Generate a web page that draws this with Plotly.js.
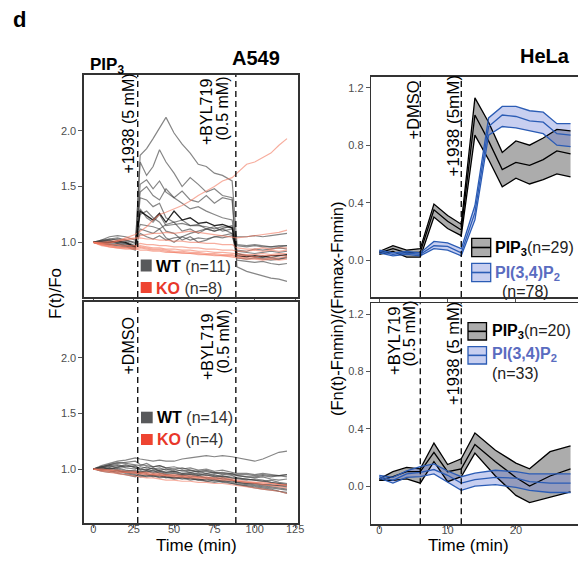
<!DOCTYPE html>
<html><head><meta charset="utf-8">
<script src="https://cdn.plot.ly/plotly-3.0.1.min.js"></script>
<style>html,body{margin:0;padding:0;background:#fff}#chart{width:578px;height:563px}</style>
</head><body><div id="chart"></div>
<script>
// ---------- DATA ----------
const a549_time = [0,5,10,15,20,26, 29,33,37,41,45,50,55,60,65,70,75,80,86, 89,95,100,105,110,115,120];
const a549_top_wt = [
 [1.00,1.01,1.02,0.99,0.97,0.94, 1.78,1.84,1.93,2.02,2.12,1.98,1.88,1.80,1.70,1.68,1.62,1.60,1.55, 0.98,0.97,0.98,0.97,0.96,0.96,0.97],
 [1.00,1.02,1.03,1.02,1.01,0.97, 1.72,1.60,1.68,1.83,1.72,1.62,1.50,1.58,1.52,1.45,1.48,1.42,1.40, 0.86,0.85,0.86,0.85,0.84,0.85,0.86],
 [1.00,0.99,0.98,0.97,0.96,0.93, 1.52,1.56,1.48,1.55,1.45,1.40,1.46,1.38,1.36,1.42,1.35,1.40,1.38, 0.78,0.74,0.72,0.70,0.68,0.67,0.65],
 [1.00,1.01,1.03,1.04,1.02,0.99, 1.45,1.50,1.42,1.38,1.48,1.40,1.35,1.30,1.32,1.28,1.25,1.22,1.20, 0.90,0.88,0.87,0.86,0.86,0.85,0.87],
 [1.00,1.00,1.01,1.00,0.99,0.95, 1.30,1.22,1.18,1.25,1.15,1.16,1.17,1.15,1.15,1.14,1.12,1.14,1.13, 0.92,0.91,0.90,0.91,0.92,0.91,0.92],
 [1.00,1.02,1.05,1.06,1.05,1.02, 1.16,1.15,1.14,1.12,1.16,1.18,1.10,1.12,1.08,1.12,1.14,1.10,1.12, 1.05,1.05,1.06,1.05,1.06,1.07,1.08],
 [1.00,1.01,1.02,1.03,1.02,1.00, 1.12,1.10,1.08,1.12,1.04,1.00,1.05,1.08,1.10,1.12,1.10,1.12,1.15, 0.97,0.96,0.97,0.96,0.96,0.97,0.97],
 [1.00,0.99,0.98,0.98,0.97,0.95, 1.40,1.38,1.32,1.35,1.22,1.18,1.20,1.15,1.16,1.12,1.10,1.12,1.08, 0.84,0.83,0.82,0.83,0.81,0.80,0.81],
 [1.00,1.00,0.99,1.00,0.99,0.96, 1.08,1.05,1.03,1.06,1.02,1.04,1.05,1.02,1.04,1.03,1.05,1.04,1.06, 0.93,0.92,0.94,0.93,0.94,0.95,0.94],
 [1.00,1.01,1.00,0.99,0.98,0.96, 1.25,1.28,1.22,1.18,1.10,1.08,1.02,1.05,1.00,1.02,1.05,1.06,1.08, 0.90,0.88,0.87,0.88,0.86,0.88,0.88]
];
const a549_top_wt_dark = [1.00,0.99,1.00,1.01,1.00,0.96, 1.28,1.24,1.20,1.26,1.18,1.28,1.20,1.22,1.17,1.18,1.15,1.16,1.13, 0.88,0.87,0.88,0.87,0.88,0.88,0.89];
const a549_top_ko = [
 [1.00,0.99,0.99,1.01,1.04,1.07, 1.10,1.14,1.20,1.25,1.27,1.30,1.33,1.37,1.42,1.46,1.50,1.55,1.58, 1.62,1.70,1.72,1.76,1.80,1.87,1.93],
 [1.00,1.00,1.01,1.02,1.03,1.04, 1.06,1.07,1.08,1.08,1.09,1.08,1.09,1.10,1.09,1.08,1.07,1.06,1.05, 1.04,1.05,1.06,1.07,1.08,1.09,1.11],
 [1.00,0.98,0.97,0.96,0.95,0.96, 0.97,0.96,0.95,0.95,0.94,0.94,0.93,0.93,0.92,0.92,0.91,0.91,0.90, 0.90,0.89,0.89,0.90,0.89,0.90,0.90],
 [1.00,0.97,0.96,0.95,0.94,0.94, 0.95,0.94,0.93,0.93,0.92,0.91,0.91,0.90,0.90,0.89,0.89,0.88,0.88, 0.87,0.86,0.86,0.85,0.86,0.86,0.87],
 [1.00,0.99,0.98,0.98,0.97,0.97, 0.99,0.98,0.98,0.97,0.97,0.96,0.96,0.95,0.95,0.94,0.94,0.93,0.93, 0.92,0.92,0.93,0.92,0.93,0.92,0.93],
 [1.00,0.98,0.97,0.96,0.96,0.95, 0.96,0.95,0.94,0.94,0.93,0.92,0.92,0.91,0.91,0.90,0.90,0.89,0.89, 0.88,0.88,0.87,0.88,0.88,0.89,0.88],
 [1.00,0.99,1.00,1.01,1.02,1.03, 1.04,1.03,1.03,1.02,1.02,1.01,1.01,1.00,1.00,0.99,0.99,0.98,0.98, 0.95,0.94,0.94,0.95,0.94,0.95,0.95],
 [1.00,0.98,0.96,0.95,0.95,0.94, 0.93,0.93,0.92,0.92,0.91,0.91,0.90,0.90,0.89,0.89,0.88,0.88,0.87, 0.86,0.85,0.85,0.84,0.85,0.84,0.85]
];
const a549_bot_wt = [
 [1.00,1.03,1.05,1.07,1.08,1.10, 1.09,1.08,1.07,1.08,1.07,1.07,1.09,1.10,1.11,1.12,1.11,1.12,1.11, 1.10,1.08,1.07,1.09,1.12,1.15,1.16],
 [1.00,1.02,1.04,1.05,1.06,1.07, 1.04,1.03,1.02,1.03,1.01,1.00,1.01,0.99,0.98,0.99,0.97,0.96,0.95, 0.94,0.93,0.93,0.94,0.93,0.94,0.95],
 [1.00,1.01,1.03,1.04,1.02,1.03, 1.00,0.99,1.01,0.98,0.97,0.98,0.96,0.97,0.95,0.96,0.94,0.93,0.92, 0.91,0.90,0.91,0.90,0.88,0.87,0.86],
 [1.00,0.99,0.98,0.96,0.95,0.93, 0.97,0.96,0.94,0.95,0.93,0.92,0.93,0.91,0.90,0.89,0.90,0.88,0.87, 0.86,0.85,0.84,0.83,0.82,0.80,0.79],
 [1.00,1.00,1.01,0.99,0.97,0.96, 0.98,0.97,0.99,0.96,0.95,0.96,0.94,0.95,0.93,0.92,0.93,0.91,0.90, 0.88,0.87,0.86,0.85,0.84,0.83,0.82],
 [1.00,1.02,1.00,1.01,0.99,0.98, 0.97,0.99,0.97,0.98,0.96,0.97,0.95,0.96,0.94,0.95,0.93,0.94,0.92, 0.92,0.91,0.90,0.89,0.88,0.87,0.86],
 [1.00,1.01,1.02,1.03,1.01,1.00, 1.02,1.01,1.00,1.01,0.99,1.00,0.98,0.99,0.97,0.98,0.96,0.97,0.96, 0.95,0.95,0.94,0.95,0.94,0.94,0.93],
 [1.00,0.98,0.97,0.99,0.96,0.94, 0.95,0.93,0.94,0.92,0.93,0.91,0.92,0.90,0.91,0.89,0.88,0.89,0.87, 0.86,0.84,0.83,0.82,0.81,0.80,0.78],
 [1.00,1.02,1.03,1.01,1.03,1.02, 1.00,1.02,1.00,0.99,1.00,0.98,0.99,0.97,0.98,0.96,0.97,0.95,0.96, 0.94,0.93,0.92,0.93,0.91,0.90,0.91],
 [1.00,0.99,1.01,1.00,0.98,0.99, 0.96,0.98,0.96,0.97,0.95,0.94,0.95,0.93,0.94,0.92,0.91,0.92,0.90, 0.89,0.88,0.87,0.86,0.85,0.85,0.84],
 [1.00,1.01,1.00,1.02,1.04,1.01, 0.99,1.00,0.98,0.99,0.97,0.98,0.96,0.95,0.96,0.94,0.95,0.93,0.94, 0.92,0.91,0.90,0.89,0.90,0.88,0.87],
 [1.00,1.00,0.99,0.97,0.98,0.97, 0.94,0.95,0.93,0.94,0.92,0.93,0.91,0.92,0.90,0.91,0.89,0.90,0.88, 0.87,0.86,0.85,0.84,0.83,0.82,0.81],
 [1.00,1.02,1.04,1.06,1.05,1.04, 1.03,1.05,1.02,1.03,1.01,1.02,1.00,1.01,0.99,1.00,0.98,0.99,0.97, 0.96,0.96,0.95,0.96,0.95,0.94,0.95],
 [1.00,0.99,1.00,0.98,0.97,0.95, 0.93,0.94,0.95,0.93,0.94,0.92,0.93,0.92,0.91,0.90,0.91,0.89,0.89, 0.88,0.87,0.87,0.86,0.86,0.85,0.85]
];
const a549_bot_ko = [
 [1.00,0.98,0.97,0.96,0.95,0.94, 0.93,0.92,0.92,0.91,0.90,0.90,0.89,0.89,0.88,0.88,0.87,0.87,0.86, 0.85,0.84,0.83,0.82,0.81,0.80,0.78],
 [1.00,0.99,0.99,0.98,0.97,0.97, 0.96,0.96,0.95,0.95,0.94,0.94,0.93,0.93,0.92,0.92,0.91,0.91,0.90, 0.89,0.88,0.87,0.86,0.85,0.84,0.83],
 [1.00,1.00,0.99,0.99,0.98,0.98, 0.97,0.97,0.96,0.96,0.95,0.95,0.94,0.94,0.93,0.93,0.92,0.92,0.91, 0.90,0.89,0.88,0.88,0.87,0.86,0.85],
 [1.00,0.99,0.98,0.97,0.97,0.96, 0.96,0.95,0.95,0.94,0.94,0.93,0.93,0.92,0.92,0.91,0.91,0.90,0.90, 0.89,0.88,0.88,0.87,0.87,0.86,0.86]
];
const a549_events_top = [27.5, 88.3];
const a549_events_bot = [27.5, 88.3];

const hela_top_time = [0,2,4,6,8,10,12,14,16,18,20,22,24,26,28];
const hela_top_pip3_upper = [0.06,0.10,0.07,0.08,0.39,0.31,0.25,1.13,0.96,0.75,0.83,0.80,0.85,0.91,0.90];
const hela_top_pip3_mean  = [0.05,0.08,0.05,0.055,0.35,0.27,0.21,1.01,0.83,0.63,0.68,0.66,0.70,0.76,0.74];
const hela_top_pip3_lower = [0.04,0.06,0.02,0.02,0.30,0.22,0.17,0.87,0.70,0.51,0.57,0.53,0.56,0.60,0.58];
const hela_top_pi34_upper = [0.07,0.05,0.06,0.05,0.13,0.12,0.08,0.38,0.99,1.07,1.07,1.04,1.03,0.95,0.95];
const hela_top_pi34_mean  = [0.06,0.04,0.05,0.04,0.10,0.095,0.05,0.33,0.93,1.01,1.00,0.97,0.96,0.88,0.87];
const hela_top_pi34_lower = [0.05,0.03,0.04,0.03,0.08,0.07,0.03,0.28,0.87,0.93,0.92,0.90,0.88,0.80,0.79];

const hela_bot_time = [0,2,4,6,8,10,12,14,17,20,22,25,28];
const hela_bot_pip3_upper = [0.05,0.10,0.13,0.12,0.30,0.15,0.19,0.37,0.25,0.16,0.12,0.24,0.28];
const hela_bot_pip3_mean  = [0.04,0.065,0.10,0.10,0.235,0.10,0.12,0.29,0.17,0.06,0.00,0.07,0.12];
const hela_bot_pip3_lower = [0.04,0.04,0.05,0.02,0.17,0.03,0.065,0.23,0.07,-0.065,-0.115,-0.075,-0.04];
const hela_bot_pi34_upper = [0.075,0.06,0.105,0.135,0.155,0.105,0.065,0.09,0.11,0.10,0.085,0.085,0.085];
const hela_bot_pi34_mean  = [0.065,0.04,0.085,0.095,0.115,0.075,0.02,0.045,0.06,0.055,0.03,0.02,0.02];
const hela_bot_pi34_lower = [0.055,0.02,0.06,0.065,0.085,0.03,-0.03,0.0,0.01,-0.01,-0.03,-0.045,-0.045];
const hela_events = [6, 12];

const a549_xticks = [0,25,50,75,100,125];
const a549_yticks = [1.0,1.5,2.0];
const hela_xticks = [0,10,20];
const hela_yticks = [0.0,0.4,0.8,1.2];

// ---------- BUILD ----------
const W = 578, H = 563;
const PX = v => v / W, PY = v => 1 - v / H;
const FONT = 'Liberation Sans, Arial, Helvetica, sans-serif';
const WT_COL = 'rgba(60,60,60,0.62)', KO_COL = 'rgba(242,120,95,0.6)';
const traces = [];
function addLines(sets, xa, ya, color, width) {
  sets.forEach(s => traces.push({x: a549_time, y: s, xaxis: xa, yaxis: ya, mode: 'lines',
    line: {color: color, width: width}, hoverinfo: 'skip', showlegend: false}));
}
addLines(a549_top_wt, 'x', 'y', WT_COL, 1.2);
addLines([a549_top_wt_dark], 'x', 'y', 'rgba(0,0,0,0.85)', 1.3);
addLines(a549_top_ko, 'x', 'y', KO_COL, 1.2);
addLines(a549_bot_wt, 'x2', 'y2', WT_COL, 1.2);
addLines(a549_bot_ko, 'x2', 'y2', KO_COL, 1.2);

function band(t, lo, hi, mid, xa, ya, fill, lcol) {
  const out = [];
  out.push({x: t, y: lo, xaxis: xa, yaxis: ya, mode: 'lines', line: {width: 0}, hoverinfo: 'skip', showlegend: false});
  out.push({x: t, y: hi, xaxis: xa, yaxis: ya, mode: 'lines', line: {width: 0}, fill: 'tonexty', fillcolor: fill, hoverinfo: 'skip', showlegend: false});
  const lines = [lo, mid, hi].map(v => ({x: t, y: v, xaxis: xa, yaxis: ya, mode: 'lines', line: {color: lcol, width: 1.3}, hoverinfo: 'skip', showlegend: false}));
  return {fill: out, lines: lines};
}
const GRAY_FILL = 'rgba(70,70,70,0.45)', BLUE_FILL = 'rgba(110,130,215,0.38)';
const BLACK = '#000', BLUE = '#2b5cb5';
[['x3','y3',hela_top_time,hela_top_pip3_lower,hela_top_pip3_upper,hela_top_pip3_mean,hela_top_pi34_lower,hela_top_pi34_upper,hela_top_pi34_mean],
 ['x4','y4',hela_bot_time,hela_bot_pip3_lower,hela_bot_pip3_upper,hela_bot_pip3_mean,hela_bot_pi34_lower,hela_bot_pi34_upper,hela_bot_pi34_mean]]
.forEach(([xa,ya,t,pl,pu,pm,bl,bu,bm]) => {
  const g = band(t, pl, pu, pm, xa, ya, GRAY_FILL, BLACK);
  const b = band(t, bl, bu, bm, xa, ya, BLUE_FILL, BLUE);
  traces.push(...g.fill, ...b.fill, ...g.lines, ...b.lines);
});

const tickFont = {family: FONT, size: 11, color: '#4d4d4d'};
function xax(dom, anchor, range, tv, labels) {
  return {domain: dom, anchor: anchor, range: range, tickvals: tv, ticktext: tv.map(String),
    showticklabels: labels, ticks: 'outside', ticklen: 3, tickwidth: 1, tickcolor: '#555',
    ticklabelstandoff: -8,
    showline: true, mirror: true, linecolor: '#333', linewidth: 1.6, showgrid: false, zeroline: false,
    tickfont: tickFont, fixedrange: true};
}
function yax(dom, anchor, range, tv, mirror) {
  return {domain: dom, anchor: anchor, range: range, tickvals: tv, ticktext: tv.map(v => v.toFixed(1)),
    ticks: 'outside', ticklen: 4, tickwidth: 1, tickcolor: '#555',
    showline: true, mirror: mirror, linecolor: '#333', linewidth: 1.6, showgrid: false, zeroline: false,
    tickfont: tickFont, fixedrange: true};
}
const LX = [PX(84), PX(298.3)], RX = [PX(371.3), 1];
const layout = {
  width: W, height: H, margin: {l: 0, r: 0, t: 0, b: 0},
  paper_bgcolor: '#fff', plot_bgcolor: '#fff', showlegend: false,
  font: {family: FONT, color: '#000'},
  xaxis: xax(LX, 'y', [-5.8, 127], a549_xticks, false),
  yaxis: yax([PY(297), PY(75)], 'x', [0.51, 2.5], a549_yticks, true),
  xaxis2: xax(LX, 'y2', [-5.8, 127], a549_xticks, true),
  yaxis2: yax([PY(523), PY(302)], 'x2', [0.515, 2.5], a549_yticks, true),
  xaxis3: xax(RX, 'y3', [-1.17, 29.09], hela_xticks, false),
  yaxis3: yax([PY(297), PY(76.7)], 'x3', [-0.257, 1.277], hela_yticks, false),
  xaxis4: xax(RX, 'y4', [-1.17, 29.09], hela_xticks, true),
  yaxis4: yax([PY(524.3), PY(303.3)], 'x4', [-0.267, 1.275], hela_yticks, false),
  shapes: [], annotations: []
};
function vline(xa, ya, xv) {
  layout.shapes.push({type: 'line', xref: xa, yref: ya + ' domain', x0: xv, x1: xv, y0: 0, y1: 1,
    line: {color: '#000', width: 1.3, dash: '6px,4px'}});
}
a549_events_top.forEach(v => vline('x', 'y', v));
a549_events_bot.forEach(v => vline('x2', 'y2', v));
hela_events.forEach(v => { vline('x3', 'y3', v); vline('x4', 'y4', v); });

function rect(x0, y0, x1, y1, fill, lc, lw) {
  layout.shapes.push({type: 'rect', xref: 'paper', yref: 'paper', x0: PX(x0), x1: PX(x1), y0: PY(y1), y1: PY(y0),
    fillcolor: fill, line: {color: lc || fill, width: lw || 0}});
}
function hseg(x0, x1, y, col) {
  layout.shapes.push({type: 'line', xref: 'paper', yref: 'paper', x0: PX(x0), x1: PX(x1), y0: PY(y), y1: PY(y),
    line: {color: col, width: 1.6}});
}
// A549 legend squares
rect(140.7, 259.5, 151.7, 271.5, '#58595b');
rect(140.7, 282, 151.7, 293, '#ee4431');
rect(141, 411.7, 152.7, 423.3, '#58595b');
rect(141, 434, 152.7, 445, '#ee4431');
// HeLa legend keys
[[471.7, 490.7, 238.3, 256.7, 263.3, 281.7], [468, 486.5, 322.7, 340, 346.7, 364]].forEach(([a, b, g0, g1, b0, b1]) => {
  rect(a, g0, b, g1, 'rgba(70,70,70,0.45)', '#000', 1.3);
  hseg(a, b, (g0 + g1) / 2, '#000');
  rect(a, b0, b, b1, 'rgba(110,130,215,0.38)', BLUE, 1.3);
  hseg(a, b, (b0 + b1) / 2, BLUE);
});

function ann(x, y, text, size, opts) {
  layout.annotations.push(Object.assign({xref: 'paper', yref: 'paper', x: PX(x), y: PY(y), text: text,
    showarrow: false, xanchor: 'center', yanchor: 'middle', font: {family: FONT, size: size, color: '#000'}}, opts || {}));
}
ann(19.5, 20, '<b>d</b>', 22);
ann(106.5, 66, '<b>PIP<sub>3</sub></b>', 17);
ann(256, 58, '<b>A549</b>', 20);
ann(545, 56, '<b>HeLa</b>', 20);
ann(55, 294, 'F(t)/Fo', 17, {textangle: -90});
ann(337, 309, '(Fn(t)-Fnmin)/(Fnmax-Fnmin)', 16.5, {textangle: -90});
ann(196, 545, 'Time (min)', 17);
ann(468, 545, 'Time (min)', 17);
const R = {textangle: -90};
ann(127.5, 124, '+1938 (5 mM)', 16, R);
ann(206, 112, '+BYL719', 16, R);
ann(221.5, 109, '(0.5 mM)', 16, R);
ann(127.5, 346, '+DMSO', 16, R);
ann(207, 347, '+BYL719', 16, R);
ann(222.5, 342, '(0.5 mM)', 16, R);
ann(412.5, 110, '+DMSO', 16.5, R);
ann(452.5, 125, '+1938 (5mM)', 17, R);
ann(394, 341, '+BYL719', 16.5, R);
ann(408.5, 334, '(0.5 mM)', 16.5, R);
ann(453, 354, '+1938 (5 mM)', 16.5, R);
const L = {xanchor: 'left'};
ann(153.5, 266, '<b>WT</b><span style="color:#333"> (n=11)</span>', 16, L);
ann(153.5, 288, '<b><span style="color:#e8372a">KO</span></b><span style="color:#333"> (n=8)</span>', 16, L);
ann(154.5, 417.5, '<b>WT</b><span style="color:#333"> (n=14)</span>', 16, L);
ann(154.5, 439.5, '<b><span style="color:#e8372a">KO</span></b><span style="color:#333"> (n=4)</span>', 16, L);
ann(492.5, 248, '<b>PIP<sub>3</sub></b><span style="color:#222">(n=29)</span>', 16, L);
ann(492.5, 273, '<b><span style="color:#5a6cc0">PI(3,4)P<sub>2</sub></span></b>', 16, L);
ann(525, 291, '<span style="color:#222">(n=78)</span>', 16);
ann(489.5, 331, '<b>PIP<sub>3</sub></b><span style="color:#222">(n=20)</span>', 16, L);
ann(489.5, 355, '<b><span style="color:#5a6cc0">PI(3,4)P<sub>2</sub></span></b>', 16, L);
ann(489.5, 373, '<span style="color:#222">(n=33)</span>', 16, L);

Plotly.newPlot('chart', traces, layout, {staticPlot: true, displayModeBar: false});
</script></body></html>
